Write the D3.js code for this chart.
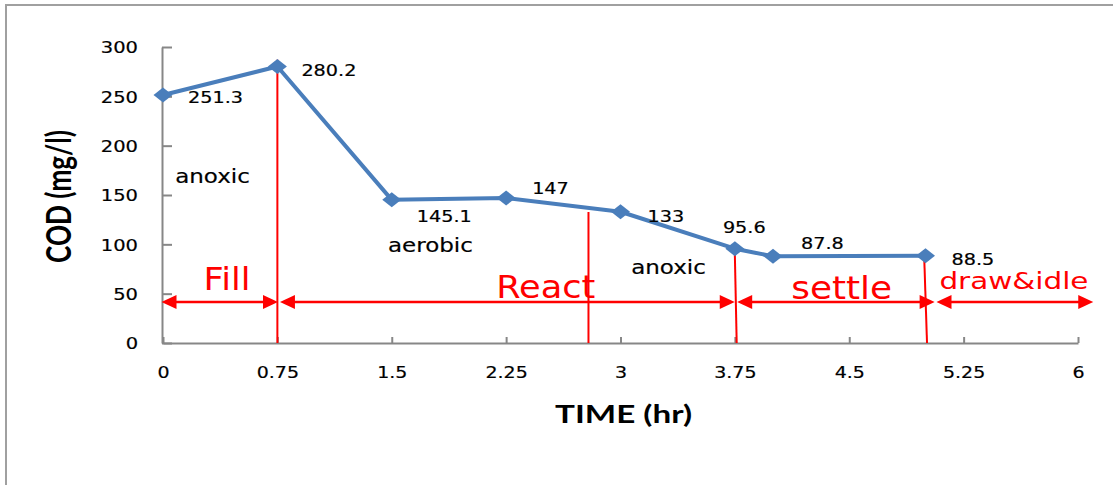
<!DOCTYPE html>
<html><head><meta charset="utf-8">
<script src="https://cdn.jsdelivr.net/npm/d3@7/dist/d3.min.js"></script>
<style>html,body{margin:0;padding:0;background:#fff;}svg{display:block;}</style>
</head><body>
<svg id="c" width="1113" height="485"></svg>
<script>
// ---- data ----
const times = [0, 0.75, 1.5, 2.25, 3, 3.75, 4, 5];
const cod = [251.3, 280.2, 145.1, 147, 133, 95.6, 87.8, 88.5];
const codLabels = ["251.3", "280.2", "145.1", "147", "133", "95.6", "87.8", "88.5"];
const xTicks = [0, 0.75, 1.5, 2.25, 3, 3.75, 4.5, 5.25, 6];
const yTicks = [0, 50, 100, 150, 200, 250, 300];
const phaseNames = ["Fill", "React", "settle", "draw&idle"];
const phaseStart = [-0.01, 0.767, 3.765, 5.072];   // hr (arrow tips)
const phaseEnd = [0.754, 3.749, 5.06, 6.1];        // hr (arrow tips)
const phaseLabelX = [0.42, 2.51, 4.45, 5.58];      // hr
const phaseLabelY = [53.7, 45.6, 44.6, 54.7];      // mg/l
const arrowLevel = 41.5;                           // mg/l
const dividerTopX = [0.75, 2.79, 3.749, 4.99];     // hr
const dividerBotX = [0.75, 2.79, 3.762, 5.01];     // hr
const dividerTop = [287, 132.8, 95.7, 94.3];       // mg/l
const condNames = ["anoxic", "aerobic", "anoxic"];
const condX = [0.08, 1.475, 3.07];                 // hr
const condY = [162, 92.2, 70];                     // mg/l

// ---- layout ----
const svg = d3.select("#c");
const x = d3.scaleLinear().domain([0, 6]).range([163, 1078]);
const y = d3.scaleLinear().domain([0, 300]).range([343, 47]);
const NUM_FONT = "DejaVu Sans";
const RED = "#ff0000";

function stretch(sel, sx) {
  sel.each(function () {
    const w = this.getComputedTextLength();
    d3.select(this).attr("textLength", w * sx).attr("lengthAdjust", "spacingAndGlyphs");
  });
}

// outer border
svg.append("rect").attr("x", 6).attr("y", 5).attr("width", 1200).attr("height", 600)
  .attr("fill", "none").attr("stroke", "#a0a0a0").attr("stroke-width", 2);

// axes
const yAxis = d3.axisLeft(y).tickValues(yTicks).tickSizeInner(-10).tickSizeOuter(0).tickPadding(24)
  .tickFormat(d => String(d));
const gy = svg.append("g").attr("transform", "translate(162,0)").call(yAxis);
const xAxis = d3.axisBottom(x).tickValues(xTicks).tickSizeInner(-6).tickSizeOuter(0)
  .tickFormat(d => String(d));
const gx = svg.append("g").attr("transform", "translate(0,343)").call(xAxis);
[gx, gy].forEach(g => {
  g.select(".domain").attr("stroke", "#878787").attr("stroke-width", 2);
  g.selectAll(".tick line").attr("stroke", "#878787").attr("stroke-width", 2);
  g.selectAll("text").attr("font-family", NUM_FONT).attr("font-size", 16.5).attr("fill", "#000")
    .attr("stroke", "#000").attr("stroke-width", 0.2);
});
gy.selectAll("text").attr("dy", "0.36em");
gx.selectAll("text").attr("y", 35).attr("dy", 0);
stretch(gy.selectAll("text"), 1.18);
stretch(gx.selectAll("text"), 1.15);

// axis titles
svg.append("text").attr("transform", "translate(71,196.5) scale(1.39,1) rotate(-90)")
  .attr("text-anchor", "middle").attr("font-family", "Lato").attr("font-weight", "bold")
  .attr("font-size", 25).attr("textLength", 133).attr("lengthAdjust", "spacingAndGlyphs")
  .text("COD (mg/l)");
svg.append("text").attr("x", 623.5).attr("y", 423).attr("text-anchor", "middle")
  .attr("font-family", "Lato").attr("font-weight", "bold").attr("font-size", 25)
  .attr("textLength", 137).attr("lengthAdjust", "spacingAndGlyphs").text("TIME (hr)");

// red dividers
svg.append("g").selectAll("line").data(dividerTop).join("line")
  .attr("x1", (d, i) => x(dividerTopX[i])).attr("x2", (d, i) => x(dividerBotX[i]))
  .attr("y1", d => y(d)).attr("y2", y(0))
  .attr("stroke", RED).attr("stroke-width", 2);

// phase arrows
const ag = svg.append("g");
const ay = y(arrowLevel);
const headL = 15, headH = 7;
phaseStart.forEach((s, i) => {
  const x0 = x(s), x1 = x(phaseEnd[i]);
  ag.append("line").attr("x1", x0 + headL - 1).attr("x2", x1 - headL + 1).attr("y1", ay).attr("y2", ay)
    .attr("stroke", RED).attr("stroke-width", 2.5);
  ag.append("path").attr("d", `M${x0},${ay}L${x0 + headL},${ay - headH}L${x0 + headL},${ay + headH}Z`).attr("fill", RED);
  ag.append("path").attr("d", `M${x1},${ay}L${x1 - headL},${ay - headH}L${x1 - headL},${ay + headH}Z`).attr("fill", RED);
});

// phase labels
const pl = svg.append("g").selectAll("text").data(phaseNames).join("text")
  .attr("x", (d, i) => x(phaseLabelX[i])).attr("y", (d, i) => y(phaseLabelY[i]))
  .attr("text-anchor", "middle").attr("font-family", NUM_FONT).attr("fill", RED)
  .attr("font-size", (d, i) => i === 3 ? 23 : 32).text(d => d);
pl.each(function (d, i) { stretch(d3.select(this), [1.1, 1.1, 1.12, 1.28][i]); });

// condition labels
const cl = svg.append("g").selectAll("text").data(condNames).join("text")
  .attr("x", (d, i) => x(condX[i])).attr("y", (d, i) => y(condY[i]))
  .attr("font-family", NUM_FONT).attr("font-size", 20).attr("fill", "#000")
  .attr("stroke", "#000").attr("stroke-width", 0.2).text(d => d);
stretch(cl, 1.15);

// series line
const pts = times.map((t, i) => [t, cod[i]]);
svg.append("path").datum(pts)
  .attr("d", d3.line().x(d => x(d[0])).y(d => y(d[1])))
  .attr("fill", "none").attr("stroke", "#4a7ebb").attr("stroke-width", 4).attr("stroke-linejoin", "round");
svg.append("g").selectAll("path").data(pts).join("path")
  .attr("d", d => { const cx = x(d[0]), cy = y(d[1]); return `M${cx - 9.5},${cy}L${cx},${cy - 7.5}L${cx + 9.5},${cy}L${cx},${cy + 7.5}Z`; })
  .attr("fill", "#4a7ebb");

// data labels
const labelOffsets = [[25, 8], [24, 9], [25, 22], [26, -4], [27, 10], [-12, -16], [28, -7], [26, 9]];
const dl = svg.append("g").selectAll("text").data(pts).join("text")
  .attr("x", (d, i) => x(d[0]) + labelOffsets[i][0]).attr("y", (d, i) => y(d[1]) + labelOffsets[i][1])
  .attr("font-family", NUM_FONT).attr("font-size", 16).attr("fill", "#000")
  .attr("stroke", "#000").attr("stroke-width", 0.2)
  .text((d, i) => codLabels[i]);
stretch(dl, 1.2);
</script>
</body></html>
